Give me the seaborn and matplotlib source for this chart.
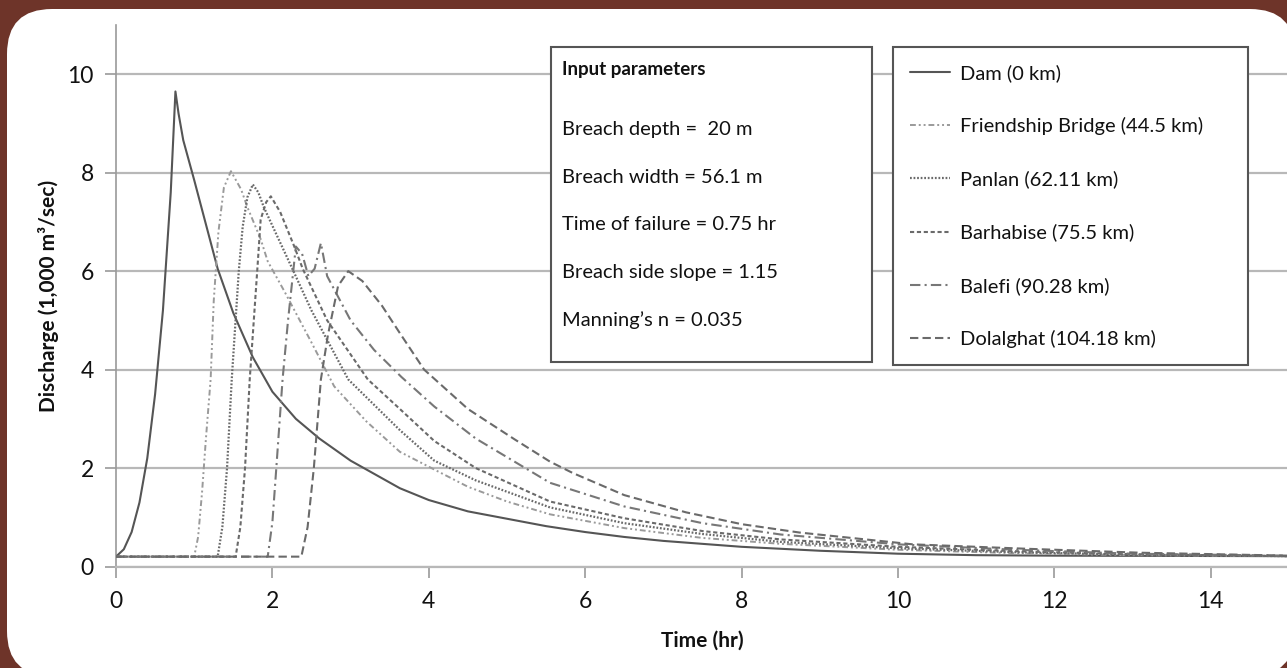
import matplotlib
matplotlib.use("Agg")
import matplotlib.pyplot as plt
import matplotlib.patches as mpatches
from matplotlib.transforms import IdentityTransform
import pandas as pd
import seaborn as sns

W, H = 1287, 668

# --- data (time in hr, discharge in 1,000 m3/s) ---
dam_t = [0, 0.1, 0.2, 0.3, 0.4, 0.5, 0.6, 0.7, 0.76, 0.8, 0.86, 1.0, 1.15, 1.3, 1.5, 1.75,
         2.0, 2.3, 2.6, 3.0, 3.63, 4.0, 4.5, 5.0, 5.5, 6.0, 6.5, 7.0, 8.0, 9.0, 10.0, 11.0, 12.0, 15.0]
dam_q = [0.2, 0.35, 0.7, 1.3, 2.2, 3.5, 5.2, 7.6, 9.65, 9.2, 8.66, 7.85, 6.95, 6.05, 5.15, 4.25,
         3.55, 3.0, 2.6, 2.15, 1.59, 1.35, 1.12, 0.97, 0.82, 0.7, 0.6, 0.52, 0.4, 0.32, 0.26, 0.23, 0.22, 0.21]

fri_t = [0, 1.0, 1.05, 1.1, 1.15, 1.21, 1.25, 1.31, 1.38, 1.47, 1.6, 1.68, 1.85, 1.94, 2.15, 2.3,
         2.5, 2.79, 3.2, 3.63, 4.07, 4.5, 5.0, 5.55, 6.5, 7.5, 8.5, 10.0, 11.5, 13.0, 15.0]
fri_q = [0.2, 0.2, 0.6, 1.5, 2.6, 3.8, 5.4, 6.8, 7.7, 8.03, 7.66, 7.3, 6.65, 6.2, 5.6, 5.15,
         4.55, 3.66, 2.95, 2.33, 1.97, 1.62, 1.32, 1.06, 0.78, 0.58, 0.46, 0.34, 0.27, 0.23, 0.21]

pan_t = [0, 1.3, 1.36, 1.42, 1.48, 1.57, 1.62, 1.68, 1.75, 1.82, 1.89, 2.05, 2.24, 2.5,
         2.97, 3.63, 4.07, 4.6, 5.55, 6.5, 7.5, 8.5, 10.0, 11.5, 13.0, 15.0]
pan_q = [0.2, 0.2, 0.8, 2.0, 3.8, 6.0, 6.9, 7.5, 7.76, 7.6, 7.3, 6.75, 6.1, 5.2,
         3.8, 2.77, 2.15, 1.75, 1.2, 0.88, 0.66, 0.5, 0.37, 0.29, 0.24, 0.21]

bar_t = [0, 1.53, 1.59, 1.65, 1.71, 1.81, 1.85, 1.92, 1.98, 2.1, 2.28, 2.39, 2.7,
         3.22, 3.63, 4.07, 4.6, 5.55, 6.5, 7.5, 8.5, 10.0, 11.5, 13.0, 15.0]
bar_q = [0.2, 0.2, 0.8, 2.0, 3.8, 6.1, 7.05, 7.4, 7.52, 7.2, 6.5, 6.04, 5.0,
         3.8, 3.2, 2.55, 2.0, 1.32, 0.98, 0.72, 0.55, 0.4, 0.31, 0.25, 0.21]

bal_t = [0, 1.94, 2.0, 2.05, 2.13, 2.2, 2.3, 2.38, 2.46, 2.54, 2.62, 2.7, 3.0, 3.3,
         3.65, 4.07, 4.6, 5.55, 6.5, 7.5, 8.5, 10.0, 11.5, 13.0, 15.0]
bal_q = [0.2, 0.2, 0.9, 2.0, 3.8, 5.0, 6.5, 6.35, 5.9, 6.05, 6.57, 5.9, 5.0, 4.4,
         3.85, 3.25, 2.6, 1.7, 1.22, 0.88, 0.65, 0.45, 0.34, 0.26, 0.22]

dol_t = [0, 2.37, 2.45, 2.53, 2.62, 2.71, 2.84, 2.97, 3.15, 3.4, 3.63, 3.94, 4.5,
         5.1, 5.55, 5.84, 6.5, 7.29, 8.0, 8.74, 10.19, 11.65, 13.1, 15.0]
dol_q = [0.2, 0.2, 0.8, 2.0, 3.8, 4.7, 5.7, 6.0, 5.8, 5.3, 4.74, 4.0, 3.2,
         2.58, 2.13, 1.9, 1.45, 1.1, 0.86, 0.69, 0.45, 0.36, 0.28, 0.22]

series = [
    ("Dam (0 km)", dam_t, dam_q, "#555555", "-", 1.5),
    ("Friendship Bridge (44.5 km)", fri_t, fri_q, "#9a9a9a", (0, (3, 1.5, 1, 1.5, 1, 1.5)), 1.4),
    ("Panlan (62.11 km)", pan_t, pan_q, "#6a6a6a", (0, (0.8, 0.8)), 1.6),
    ("Barhabise (75.5 km)", bar_t, bar_q, "#6a6a6a", (0, (2, 1.3)), 1.5),
    ("Balefi (90.28 km)", bal_t, bal_q, "#777777", (0, (5, 2, 1, 2)), 1.5),
    ("Dolalghat (104.18 km)", dol_t, dol_q, "#6a6a6a", (0, (4, 2)), 1.5),
]

params = [
    "Breach depth =  20 m",
    "Breach width = 56.1 m",
    "Time of failure = 0.75 hr",
    "Breach side slope = 1.15",
    "Manning\u2019s n = 0.035",
]

sns.set_theme(style="white")
plt.rcParams["font.family"] = ["Lato", "DejaVu Sans"]

fig = plt.figure(figsize=(W / 100, H / 100), dpi=100)
fig.patch.set_facecolor("#6e3429")

# white rounded panel behind everything
panel = mpatches.FancyBboxPatch(
    (7, -8), 1288, 667,
    boxstyle="round,pad=0,rounding_size=45",
    transform=IdentityTransform(), facecolor="white", edgecolor="none", zorder=-10,
)
fig.patches.append(panel)

ax_left, ax_bottom = 116 / W, (H - 566.5) / H
ax = fig.add_axes([ax_left, ax_bottom, 15 * 78.2 / W, (566.5 - 25) / H])
ax.set_facecolor("none")

for name, t, q, color, ls, lw in series:
    df = pd.DataFrame({"t": t, "q": q})
    sns.lineplot(data=df, x="t", y="q", ax=ax, color=color, linestyle=ls,
                 linewidth=lw, label=name, zorder=3)

ax.set_xlim(0, 15)
ax.set_ylim(0, 11)
ax.set_xticks(range(0, 15, 2))
ax.set_yticks(range(0, 11, 2))
ax.yaxis.grid(True, color="#b8b8b8", linewidth=1.6)
ax.xaxis.grid(False)
for side in ["top", "right"]:
    ax.spines[side].set_visible(False)
ax.spines["left"].set_color("#9a9a9a")
ax.spines["left"].set_linewidth(1.2)
ax.spines["bottom"].set_color("#b8b8b8")
ax.spines["bottom"].set_linewidth(1.6)
ax.tick_params(axis="both", which="major", length=8, width=1.2, color="#9a9a9a",
               labelsize=16.5, labelcolor="#111111", pad=10)
ax.tick_params(axis="x", bottom=True, direction="out")
ax.tick_params(axis="y", left=True, direction="out", pad=8)

ax.set_xlabel("Time (hr)", fontsize=15, fontweight="bold", color="#111111", labelpad=13)
ax.set_ylabel("Discharge (1,000 m\u00b3/sec)", fontsize=15, fontweight="bold",
              color="#111111", labelpad=6)

# legend box
leg_x0, leg_top, leg_w = 893 / W, 1 - 47 / H, (1248 - 893) / W
leg = ax.legend(loc="upper left", bbox_to_anchor=(leg_x0, leg_top - 0.01, leg_w, 0.01),
                bbox_transform=fig.transFigure, mode="expand", borderaxespad=0,
                fontsize=14.5, labelspacing=1.75, handlelength=2.0, handletextpad=0.5,
                borderpad=0.85, fancybox=False, framealpha=1, edgecolor="#555555")
leg.get_frame().set_linewidth(1.5)
for txt in leg.get_texts():
    txt.set_color("#111111")

# input parameters box
box = mpatches.Rectangle((551 / W, 1 - 362 / H), (872 - 551) / W, (362 - 47) / H,
                         transform=fig.transFigure, facecolor="white",
                         edgecolor="#555555", linewidth=1.5, zorder=5)
fig.patches.append(box)
fig.text(562 / W, 1 - 70 / H, "Input parameters", fontsize=13.5, fontweight="bold",
         va="center", color="#111111", zorder=6)
for i, line in enumerate(params):
    y_px = 130 + i * 47.5
    fig.text(562 / W, 1 - y_px / H, line, fontsize=14.5, va="center",
             color="#111111", zorder=6)

fig.savefig("out.png", dpi=100, facecolor=fig.get_facecolor())
